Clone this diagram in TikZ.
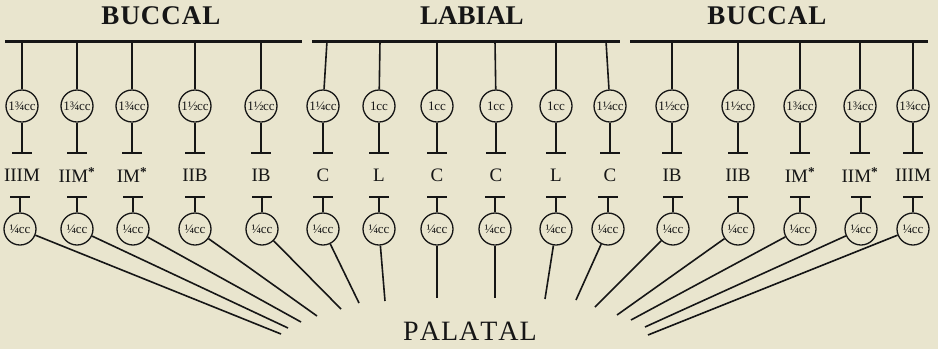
\documentclass[tikz,border=0pt]{standalone}
\usepackage{fontspec}
\setmainfont{Liberation Serif}
\definecolor{paper}{RGB}{233,229,206}
\definecolor{ink}{RGB}{22,22,22}
\begin{document}
\begin{tikzpicture}[x=1pt,y=-1pt,
  circ/.style={circle, draw=ink, line width=1.3pt, minimum size=32pt, inner sep=0pt,
    text=ink, font=\fontsize{13}{13}\selectfont},
  lab/.style={text=ink, inner sep=0pt, font=\fontsize{19}{19}\selectfont},
  head/.style={text=ink, inner sep=0pt, font=\fontsize{27}{27}\selectfont\bfseries},
  foot/.style={text=ink, inner sep=0pt, font=\fontsize{28}{28}\selectfont},
  wire/.style={draw=ink, line width=1.6pt},
  tbar/.style={draw=ink, line width=1.8pt},
  rail/.style={draw=ink, line width=3pt}]
\fill[paper] (0,0) rectangle (938,349);
\useasboundingbox (0,0) rectangle (938,349);
% headings
\node[head] (hb1) at (161,16) {B\kern1pt U\kern1pt C\kern1pt C\kern1pt A\kern1pt L};
\node[head] (hl) at (472,16) {LABIAL};
\node[head] (hb2) at (767,16) {B\kern1pt U\kern1pt C\kern1pt C\kern1pt A\kern1pt L};
\node[foot] (pal) at (470,331) {P\kern1pt A\kern1pt L\kern1pt A\kern1pt T\kern1pt A\kern1pt L};
% rails
\coordinate (r1a) at (5,41); \coordinate (r1b) at (302,41);
\coordinate (r2a) at (312,41); \coordinate (r2b) at (620,41);
\coordinate (r3a) at (630,41); \coordinate (r3b) at (928,41);
\draw[rail] (r1a) -- (r1b);
\draw[rail] (r2a) -- (r2b);
\draw[rail] (r3a) -- (r3b);
% columns
\foreach \i/\x/\ax/\bx/\px/\py/\tv/\lb in {
  1/22/22/20/281/334/{1¾}/{IIIM},
  2/77/77/77/288/328/{1¾}/{IIM\textsuperscript{\textbf{*}}},
  3/132/132/133/301/322/{1¾}/{IM\textsuperscript{\textbf{*}}},
  4/195/195/195/317/316/{1½}/{IIB},
  5/261/261/262/341/309/{1½}/{IB},
  6/323/327/323/359/303/{1¼}/{C},
  7/379/380/379/385/301/{1}/{L},
  8/437/437/437/437/298/{1}/{C},
  9/496/495/495/495/298/{1}/{C},
  10/556/556/556/545/299/{1}/{L},
  11/610/606/608/576/300/{1¼}/{C},
  12/672/672/673/595/307/{1½}/{IB},
  13/738/738/738/617/315/{1½}/{IIB},
  14/800/800/800/631/320/{1¾}/{IM\textsuperscript{\textbf{*}}},
  15/860/860/861/645/327/{1¾}/{IIM\textsuperscript{\textbf{*}}},
  16/913/913/913/648/335/{1¾}/{IIIM}}{
  \node[circ] (t\i) at (\x,106) {\tv\kern-0.3pt cc};
  \node[circ] (b\i) at (\bx,229) {¼\kern-0.3pt cc};
  \node[lab] (l\i) at (\x,175) {\lb};
  \coordinate (a\i) at (\ax,41);
  \coordinate (u\i) at (\x,153);
  \coordinate (ul\i) at (\x-10,153); \coordinate (ur\i) at (\x+10,153);
  \coordinate (v\i) at (\bx,197);
  \coordinate (vl\i) at (\bx-10,197); \coordinate (vr\i) at (\bx+10,197);
  \coordinate (p\i) at (\px,\py);
  \draw[wire] (a\i) -- (t\i);
  \draw[wire] (t\i) -- (u\i);
  \draw[tbar] (ul\i) -- (ur\i);
  \draw[tbar] (vl\i) -- (vr\i);
  \draw[wire] (v\i) -- (b\i);
  \draw[wire] (b\i) -- (p\i);
}
\end{tikzpicture}
\end{document}
